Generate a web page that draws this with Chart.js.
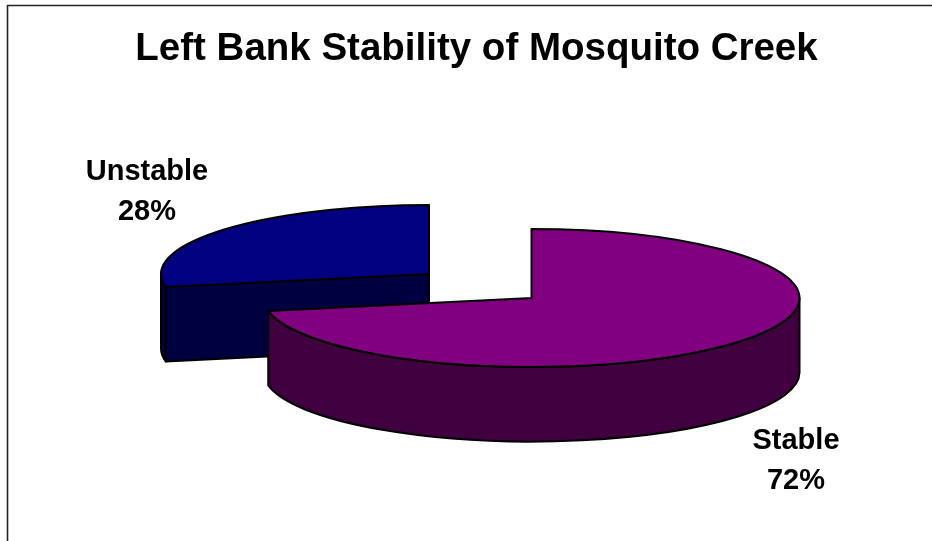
<!DOCTYPE html>
<html>
<head>
<meta charset="utf-8">
<title>Left Bank Stability of Mosquito Creek</title>
<style>
  html, body { margin: 0; padding: 0; background: #fff; }
  canvas { display: block; }
</style>
<script src="https://cdn.jsdelivr.net/npm/chart.js@4"></script>
</head>
<body>
<canvas id="chart" width="932" height="541"></canvas>
<script>
// Share of the left bank in each condition (percent)
const categories = ['Stable', 'Unstable'];
const shares = [72, 28];

const topColours = ['#800080', '#000080'];
const wallColours = ['#400040', '#000040'];
const chartTitle = 'Left Bank Stability of Mosquito Creek';

// Tilted-disc presentation of the pie
const FONT = '"Liberation Sans", Arial, sans-serif';
const TILT = 0.2575;        // vertical squash of the disc
const DEPTH = 74.5;         // wall height in pixels
const EXPLODE = [{x: 55, y: 12}, {x: -47.5, y: -12}];     // slice offsets from the pie centre
const LABEL_POS = [{x: 796, y: 449}, {x: 147, y: 180}];   // first-line baseline centres
const LINE_GAP = 40;

function tracePie(ctx, cx, cy, rx, ry, from, to) {
  ctx.beginPath();
  ctx.moveTo(cx, cy);
  ctx.ellipse(cx, cy, rx, ry, 0, from, to);
  ctx.closePath();
}

function traceWall(ctx, cx, cy, rx, ry, from, to) {
  ctx.beginPath();
  ctx.ellipse(cx, cy, rx, ry, 0, from, to);
  ctx.lineTo(cx + rx * Math.cos(to), cy + ry * Math.sin(to) + DEPTH);
  ctx.ellipse(cx, cy + DEPTH, rx, ry, 0, to, from, true);
  ctx.closePath();
}

const outline = (ctx) => { ctx.strokeStyle = '#000'; ctx.lineWidth = 2; ctx.lineJoin = 'round'; ctx.stroke(); };

const tiltedPie = {
  id: 'tiltedPie',
  beforeDatasetsDraw(chart) {
    const ctx = chart.ctx;
    const arcs = chart.getDatasetMeta(0).data;
    // Back slice first, so the front slice overlaps it
    for (let i = arcs.length - 1; i >= 0; i--) {
      const arc = arcs[i];
      const {x, y, startAngle, endAngle, outerRadius} = arc;
      const rx = outerRadius, ry = outerRadius * TILT;
      const cx = x + EXPLODE[i].x, cy = y + EXPLODE[i].y;

      // Radial cut face, shown when it turns towards the viewer
      if (Math.cos(startAngle) < -1e-6) {
        const ex = cx + rx * Math.cos(startAngle), ey = cy + ry * Math.sin(startAngle);
        ctx.beginPath();
        ctx.moveTo(cx, cy);
        ctx.lineTo(ex, ey);
        ctx.lineTo(ex, ey + DEPTH);
        ctx.lineTo(cx, cy + DEPTH);
        ctx.closePath();
        ctx.fillStyle = wallColours[i];
        ctx.fill();
        outline(ctx);
      }

      // Rim wall: only the front half of the disc can be seen
      const from = Math.max(startAngle, 0), to = Math.min(endAngle, Math.PI);
      if (to > from) {
        traceWall(ctx, cx, cy, rx, ry, from, to);
        ctx.fillStyle = wallColours[i];
        ctx.fill();
        outline(ctx);
      }

      // Top face, drawn by the arc element inside a squashed coordinate system
      ctx.save();
      ctx.translate(cx, cy);
      ctx.scale(1, TILT);
      arc.x = 0; arc.y = 0;
      arc.draw(ctx);
      arc.x = x; arc.y = y;
      ctx.restore();
      tracePie(ctx, cx, cy, rx, ry, startAngle, endAngle);
      outline(ctx);
    }
    return false;
  },
  afterDraw(chart) {
    const ctx = chart.ctx;
    ctx.save();
    // Frame along the top and left edges
    ctx.strokeStyle = '#222';
    ctx.lineWidth = 1.6;
    ctx.beginPath();
    ctx.moveTo(7.5, 541);
    ctx.lineTo(7.5, 5.5);
    ctx.lineTo(932, 5.5);
    ctx.stroke();
    // Category name and percentage beside each slice
    ctx.fillStyle = '#000';
    ctx.font = 'bold 29px ' + FONT;
    ctx.textAlign = 'center';
    ctx.textBaseline = 'alphabetic';
    categories.forEach((name, i) => {
      ctx.fillText(name, LABEL_POS[i].x, LABEL_POS[i].y);
      ctx.fillText(shares[i] + '%', LABEL_POS[i].x, LABEL_POS[i].y + LINE_GAP);
    });
    ctx.restore();
  }
};

new Chart(document.getElementById('chart'), {
  type: 'pie',
  data: {
    labels: categories,
    datasets: [{ data: shares, backgroundColor: topColours, borderWidth: 0 }]
  },
  options: {
    responsive: false,
    animation: false,
    radius: 268,
    layout: { padding: { left: 21, right: 0, top: 0, bottom: 41.6 } },
    plugins: {
      legend: { display: false },
      tooltip: { enabled: false },
      title: {
        display: true,
        text: chartTitle,
        color: '#000',
        font: { family: FONT, size: 38.5, weight: 'bold' },
        padding: { top: 26.4, bottom: 0 }
      }
    }
  },
  plugins: [tiltedPie]
});
</script>
</body>
</html>
